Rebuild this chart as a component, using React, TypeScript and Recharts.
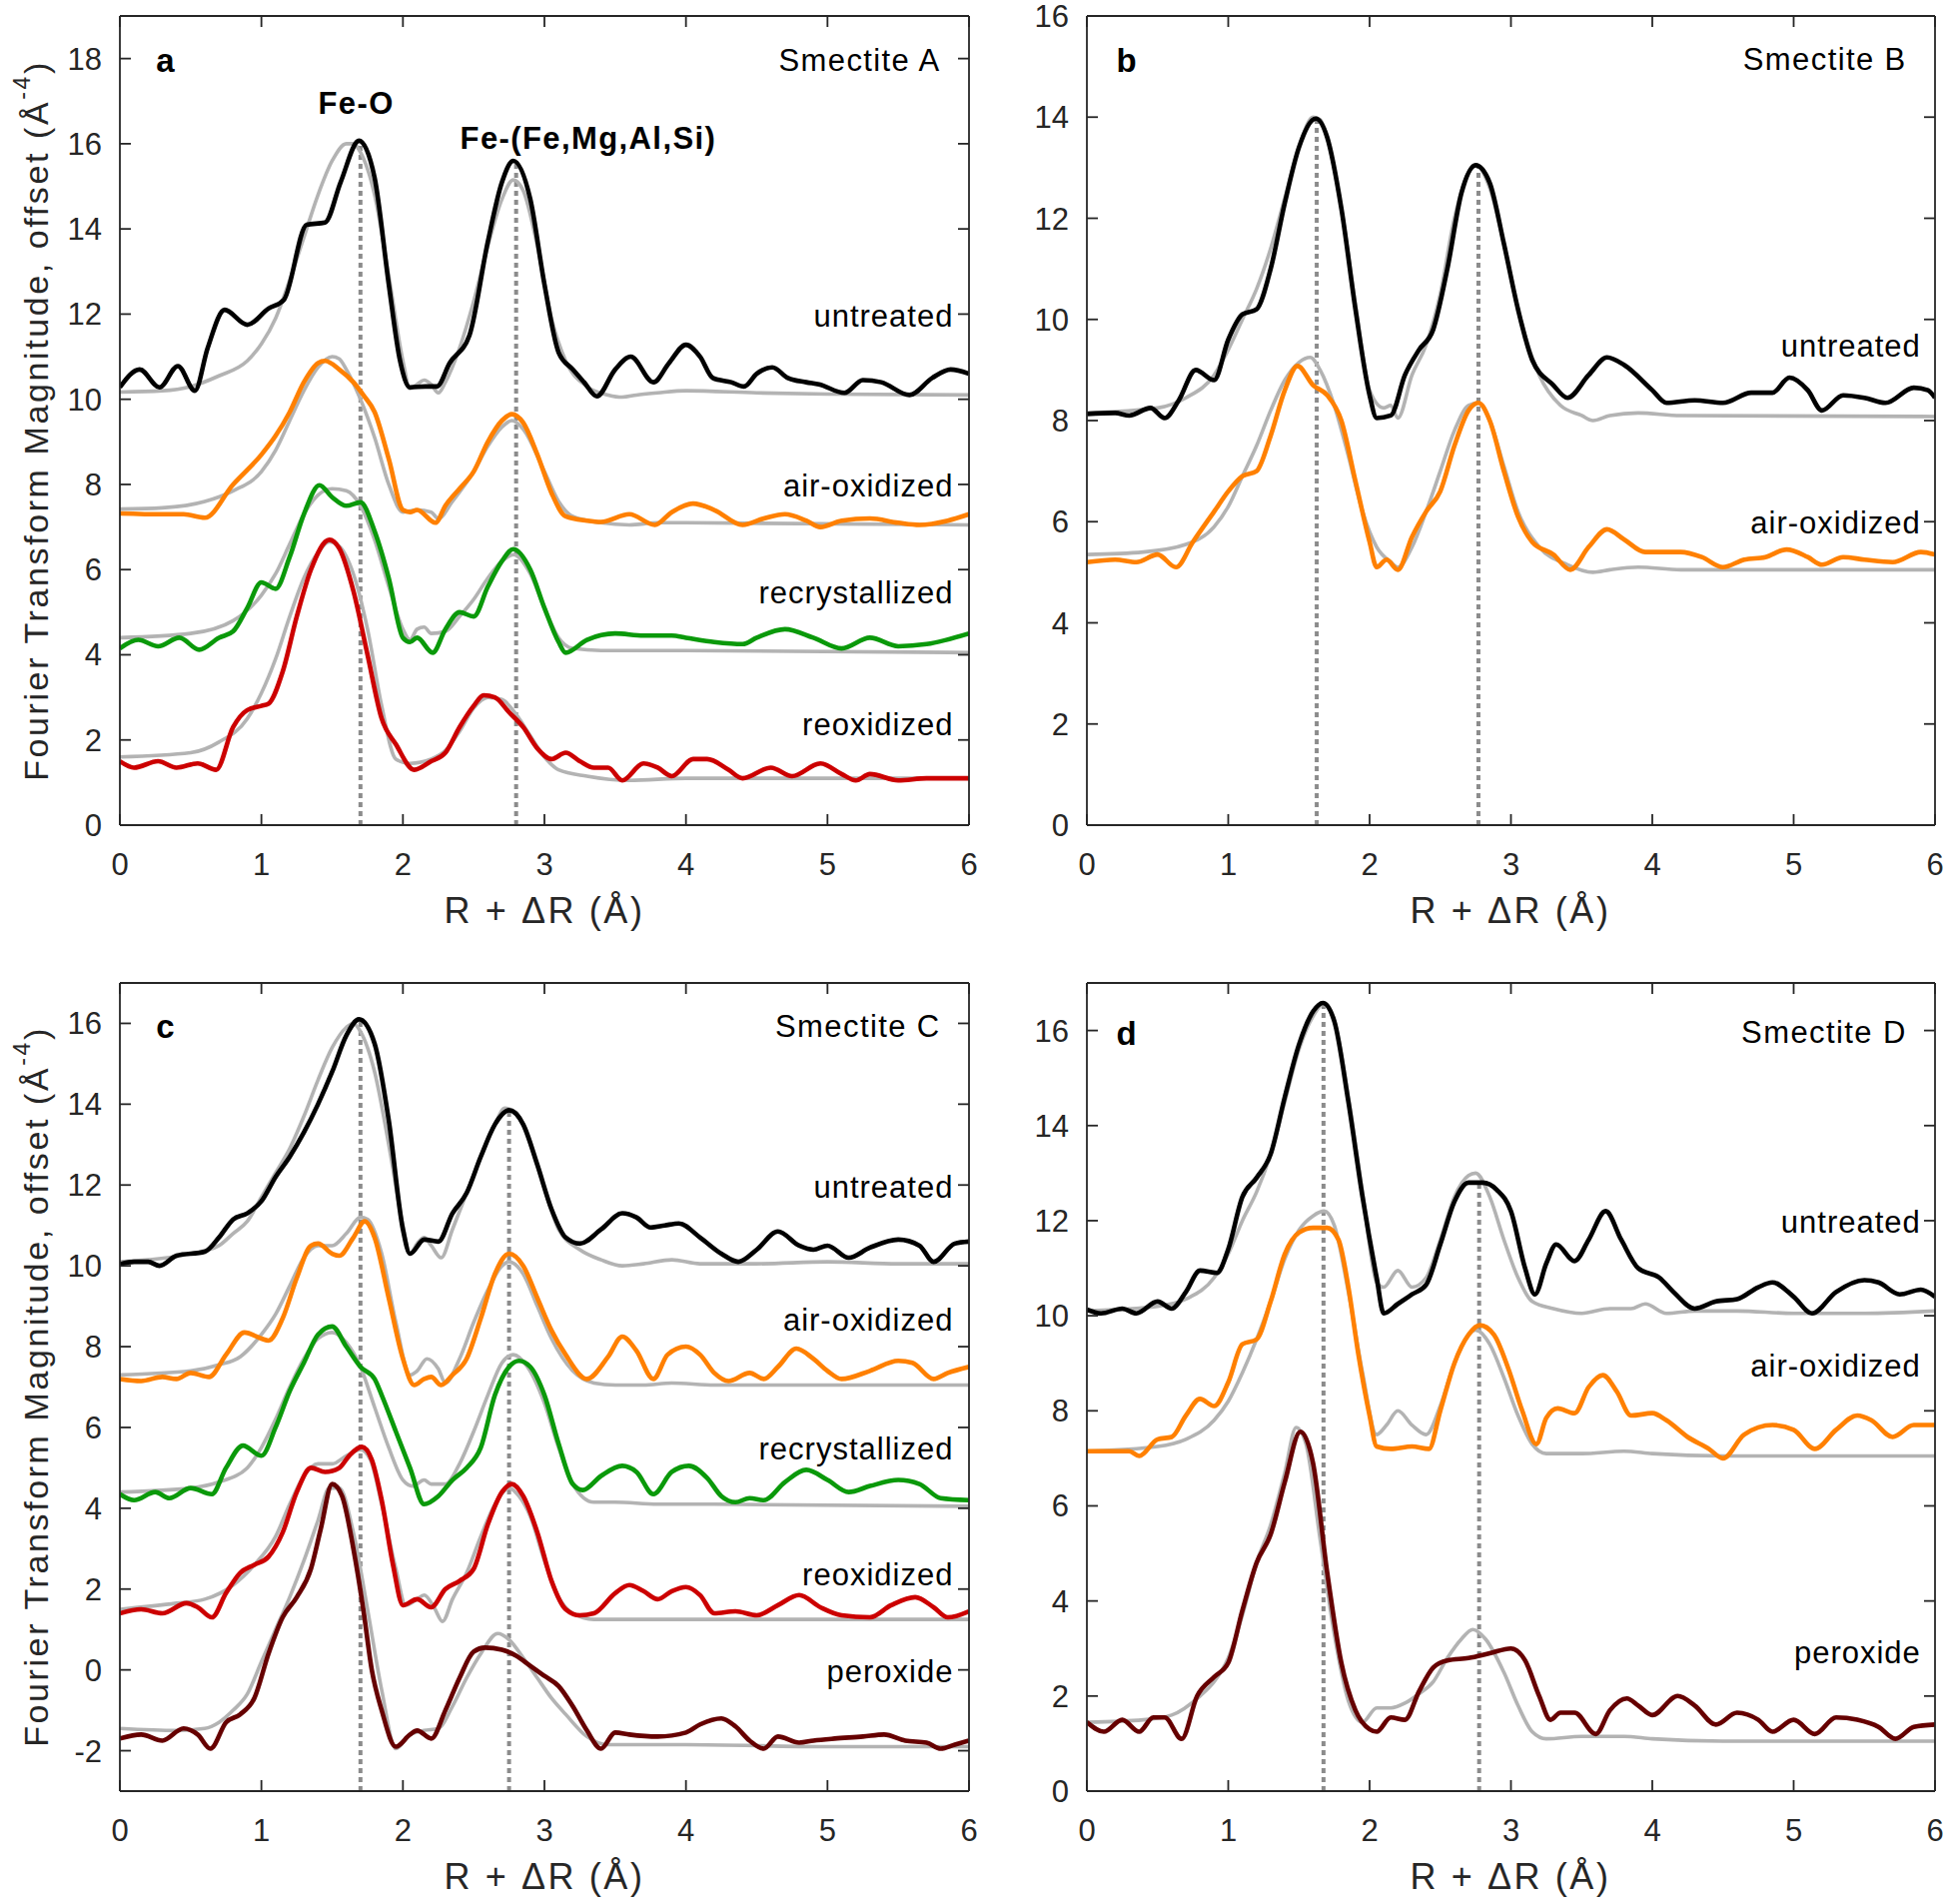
import React from 'react';
import { LineChart, Line, XAxis, YAxis, ReferenceLine, ReferenceDot } from 'recharts';

type Pt = [number, number];

// ---------- x ticks ----------
const xTicks = [0, 1, 2, 3, 4, 5, 6];
const yTicksA = [0, 2, 4, 6, 8, 10, 12, 14, 16, 18];
const yTicksB = [0, 2, 4, 6, 8, 10, 12, 14, 16];
const yTicksC = [-2, 0, 2, 4, 6, 8, 10, 12, 14, 16];
const yTicksD = [0, 2, 4, 6, 8, 10, 12, 14, 16];

// ---------- Panel a : Smectite A ----------
const aUntreated: Pt[] = [[0,10.28],[0.14,10.7],[0.28,10.28],[0.41,10.78],[0.53,10.2],[0.62,11.2],[0.74,12.1],[0.9,11.75],[1.05,12.13],[1.16,12.34],[1.32,14.1],[1.45,14.15],[1.56,15.1],[1.69,16.07],[1.8,15.2],[1.9,12.7],[1.98,10.9],[2.05,10.28],[2.16,10.3],[2.24,10.3],[2.33,10.85],[2.47,11.5],[2.6,13.7],[2.7,15.1],[2.78,15.6],[2.9,14.7],[3.0,12.7],[3.1,11.1],[3.2,10.7],[3.28,10.4],[3.37,10.07],[3.5,10.7],[3.61,11],[3.77,10.4],[3.88,10.85],[4.0,11.28],[4.1,11],[4.19,10.5],[4.32,10.4],[4.41,10.3],[4.5,10.6],[4.61,10.75],[4.72,10.5],[4.85,10.4],[4.94,10.35],[5.12,10.15],[5.25,10.45],[5.38,10.4],[5.58,10.1],[5.74,10.5],[5.87,10.7],[6.0,10.6]];
const aUntreatedFit: Pt[] = [[0,10.17],[0.3,10.2],[0.5,10.3],[0.7,10.55],[0.9,10.9],[1.0,11.3],[1.1,11.9],[1.2,12.8],[1.3,13.8],[1.4,14.8],[1.5,15.6],[1.6,16.0],[1.65,16.0],[1.7,15.8],[1.8,14.8],[1.9,12.9],[2.0,10.9],[2.05,10.25],[2.1,10.35],[2.15,10.45],[2.2,10.35],[2.25,10.15],[2.3,10.4],[2.4,11.2],[2.5,12.3],[2.6,13.6],[2.7,14.7],[2.78,15.15],[2.85,14.9],[2.95,13.6],[3.05,11.9],[3.15,10.9],[3.3,10.3],[3.45,10.1],[3.55,10.05],[3.65,10.1],[3.8,10.15],[4.0,10.2],[4.5,10.15],[5,10.12],[6,10.1]];
const aAir: Pt[] = [[0,7.32],[0.3,7.3],[0.45,7.3],[0.6,7.22],[0.8,8.0],[1.0,8.7],[1.1,9.14],[1.2,9.7],[1.3,10.4],[1.4,10.85],[1.45,10.9],[1.55,10.7],[1.65,10.4],[1.72,10.1],[1.8,9.7],[1.9,8.6],[2.0,7.4],[2.05,7.35],[2.1,7.4],[2.23,7.1],[2.3,7.5],[2.4,7.9],[2.5,8.3],[2.6,9.0],[2.7,9.5],[2.77,9.65],[2.85,9.45],[2.95,8.7],[3.05,7.8],[3.15,7.25],[3.3,7.15],[3.4,7.12],[3.6,7.3],[3.78,7.05],[3.9,7.35],[4.05,7.55],[4.2,7.4],[4.4,7.05],[4.55,7.2],[4.7,7.3],[4.85,7.15],[4.95,7.0],[5.1,7.15],[5.3,7.2],[5.5,7.1],[5.65,7.05],[5.85,7.15],[6.0,7.3]];
const aAirFit: Pt[] = [[0,7.42],[0.3,7.45],[0.6,7.6],[0.8,7.85],[1.0,8.3],[1.1,8.8],[1.2,9.5],[1.3,10.2],[1.4,10.75],[1.5,11.0],[1.55,10.95],[1.6,10.7],[1.7,10.0],[1.8,9.1],[1.9,8.0],[2.0,7.35],[2.1,7.4],[2.2,7.35],[2.25,7.2],[2.35,7.6],[2.5,8.3],[2.6,8.9],[2.7,9.35],[2.77,9.5],[2.85,9.3],[3.0,8.3],[3.1,7.6],[3.2,7.25],[3.4,7.1],[3.6,7.05],[3.8,7.1],[4.0,7.1],[6,7.05]];
const aRecrys: Pt[] = [[0,4.15],[0.13,4.35],[0.27,4.2],[0.42,4.4],[0.56,4.12],[0.7,4.4],[0.8,4.55],[0.9,5.1],[1.0,5.7],[1.1,5.55],[1.2,6.3],[1.3,7.3],[1.41,7.98],[1.5,7.7],[1.6,7.5],[1.7,7.58],[1.8,6.9],[1.9,5.8],[2.0,4.4],[2.05,4.3],[2.1,4.4],[2.21,4.05],[2.3,4.6],[2.4,5.0],[2.5,4.9],[2.6,5.6],[2.7,6.2],[2.78,6.48],[2.9,6.0],[3.0,5.1],[3.1,4.3],[3.15,4.05],[3.3,4.35],[3.5,4.5],[3.7,4.45],[3.9,4.45],[4.0,4.4],[4.2,4.3],[4.4,4.25],[4.5,4.4],[4.7,4.6],[4.9,4.4],[5.1,4.15],[5.3,4.4],[5.5,4.2],[5.7,4.25],[6.0,4.5]];
const aRecrysFit: Pt[] = [[0,4.4],[0.5,4.5],[0.8,4.8],[1.0,5.4],[1.1,5.9],[1.2,6.6],[1.3,7.3],[1.4,7.75],[1.5,7.9],[1.6,7.85],[1.7,7.5],[1.8,6.7],[1.9,5.6],[2.0,4.6],[2.05,4.35],[2.1,4.6],[2.15,4.65],[2.2,4.5],[2.3,4.55],[2.4,4.9],[2.5,5.3],[2.6,5.8],[2.7,6.2],[2.78,6.35],[2.9,5.9],[3.0,5.1],[3.1,4.4],[3.2,4.15],[3.4,4.1],[3.6,4.1],[4,4.1],[6,4.05]];
const aReox: Pt[] = [[0,1.5],[0.1,1.35],[0.27,1.5],[0.4,1.35],[0.55,1.45],[0.68,1.3],[0.8,2.3],[0.9,2.7],[1.0,2.8],[1.05,2.85],[1.15,3.6],[1.25,4.9],[1.35,6.0],[1.48,6.7],[1.55,6.5],[1.65,5.5],[1.75,4.0],[1.85,2.5],[1.95,1.9],[2.08,1.3],[2.2,1.5],[2.3,1.7],[2.4,2.3],[2.5,2.8],[2.57,3.05],[2.65,3.0],[2.75,2.65],[2.85,2.3],[2.95,1.8],[3.05,1.55],[3.15,1.7],[3.25,1.5],[3.35,1.35],[3.45,1.35],[3.55,1.05],[3.7,1.45],[3.8,1.35],[3.9,1.15],[4.05,1.55],[4.15,1.55],[4.3,1.3],[4.4,1.1],[4.6,1.35],[4.75,1.15],[4.95,1.45],[5.1,1.2],[5.2,1.05],[5.3,1.2],[5.5,1.05],[5.7,1.1],[6.0,1.1]];
const aReoxFit: Pt[] = [[0,1.6],[0.5,1.7],[0.7,1.95],[0.9,2.5],[1.0,3.1],[1.1,3.9],[1.2,4.9],[1.3,5.8],[1.4,6.4],[1.48,6.65],[1.55,6.55],[1.65,5.9],[1.75,4.6],[1.85,2.8],[1.95,1.55],[2.05,1.45],[2.2,1.55],[2.3,1.75],[2.4,2.2],[2.5,2.75],[2.6,3.0],[2.7,2.95],[2.8,2.6],[2.9,2.1],[3.0,1.6],[3.1,1.3],[3.3,1.15],[3.6,1.05],[4,1.1],[6,1.1]];

// ---------- Panel b : Smectite B ----------
const bUntreated: Pt[] = [[0,8.13],[0.2,8.15],[0.3,8.1],[0.45,8.25],[0.55,8.05],[0.65,8.4],[0.77,9.0],[0.9,8.8],[1.0,9.6],[1.1,10.1],[1.2,10.2],[1.3,11.0],[1.4,12.3],[1.5,13.4],[1.62,13.97],[1.7,13.6],[1.8,12.2],[1.9,10.2],[2.0,8.5],[2.05,8.05],[2.15,8.1],[2.25,8.9],[2.35,9.4],[2.45,9.8],[2.55,11.0],[2.65,12.5],[2.75,13.05],[2.85,12.7],[2.95,11.5],[3.05,10.2],[3.15,9.2],[3.3,8.7],[3.4,8.45],[3.55,8.9],[3.68,9.25],[3.8,9.1],[4.0,8.6],[4.1,8.35],[4.3,8.4],[4.5,8.35],[4.7,8.55],[4.85,8.55],[4.97,8.85],[5.1,8.6],[5.2,8.2],[5.35,8.5],[5.5,8.45],[5.65,8.35],[5.85,8.65],[5.95,8.6],[6.0,8.45]];
const bUntreatedFit: Pt[] = [[0,8.15],[0.5,8.25],[0.7,8.45],[0.9,8.9],[1.0,9.4],[1.1,10.0],[1.2,10.6],[1.3,11.4],[1.4,12.4],[1.5,13.4],[1.6,14.0],[1.65,13.95],[1.7,13.6],[1.8,12.2],[1.9,10.3],[2.0,8.6],[2.1,8.25],[2.15,8.3],[2.2,8.05],[2.3,8.9],[2.4,9.5],[2.5,10.5],[2.6,12.0],[2.7,12.9],[2.75,13.05],[2.85,12.6],[2.95,11.5],[3.05,10.2],[3.2,8.9],[3.35,8.3],[3.5,8.1],[3.58,8.0],[3.7,8.1],[3.9,8.15],[4.2,8.1],[6,8.08]];
const bAir: Pt[] = [[0,5.2],[0.2,5.25],[0.35,5.2],[0.5,5.35],[0.63,5.1],[0.75,5.6],[0.9,6.2],[1.0,6.6],[1.1,6.9],[1.2,7.0],[1.3,7.7],[1.4,8.6],[1.49,9.08],[1.6,8.7],[1.7,8.5],[1.8,8.0],[1.9,6.8],[2.0,5.6],[2.05,5.1],[2.12,5.25],[2.2,5.05],[2.3,5.7],[2.4,6.2],[2.5,6.6],[2.6,7.5],[2.7,8.2],[2.77,8.35],[2.85,8.0],[2.95,7.0],[3.05,6.1],[3.15,5.6],[3.3,5.35],[3.42,5.05],[3.55,5.5],[3.68,5.85],[3.8,5.65],[3.95,5.4],[4.2,5.4],[4.35,5.3],[4.5,5.1],[4.65,5.25],[4.8,5.3],[4.95,5.45],[5.1,5.3],[5.2,5.15],[5.35,5.3],[5.5,5.25],[5.7,5.2],[5.9,5.4],[6.0,5.35]];
const bAirFit: Pt[] = [[0,5.35],[0.4,5.4],[0.7,5.55],[0.9,5.9],[1.0,6.3],[1.1,6.9],[1.2,7.5],[1.3,8.2],[1.4,8.8],[1.5,9.15],[1.58,9.25],[1.65,9.0],[1.75,8.3],[1.85,7.3],[1.95,6.2],[2.05,5.5],[2.15,5.2],[2.2,5.1],[2.3,5.5],[2.4,6.2],[2.5,7.0],[2.6,7.8],[2.7,8.3],[2.77,8.35],[2.85,8.0],[2.95,7.1],[3.05,6.2],[3.2,5.5],[3.4,5.15],[3.58,5.0],[3.7,5.05],[3.9,5.1],[4.2,5.05],[6,5.05]];

// ---------- Panel c : Smectite C ----------
const cUntreated: Pt[] = [[0,10.04],[0.1,10.1],[0.2,10.1],[0.28,10.0],[0.4,10.25],[0.6,10.35],[0.7,10.7],[0.8,11.15],[0.9,11.3],[1.0,11.6],[1.1,12.2],[1.2,12.7],[1.3,13.3],[1.4,14.0],[1.5,14.8],[1.6,15.7],[1.69,16.1],[1.8,15.5],[1.9,13.6],[2.0,10.9],[2.05,10.3],[2.15,10.65],[2.25,10.6],[2.35,11.3],[2.45,11.8],[2.55,12.7],[2.65,13.5],[2.75,13.85],[2.85,13.5],[2.95,12.5],[3.05,11.4],[3.15,10.7],[3.25,10.55],[3.4,10.9],[3.55,11.3],[3.65,11.2],[3.75,10.95],[3.85,11.0],[3.95,11.05],[4.1,10.7],[4.25,10.3],[4.37,10.1],[4.5,10.4],[4.65,10.85],[4.8,10.5],[4.9,10.4],[5.0,10.5],[5.15,10.2],[5.3,10.45],[5.5,10.65],[5.65,10.5],[5.75,10.1],[5.9,10.55],[6.0,10.6]];
const cUntreatedFit: Pt[] = [[0,10.1],[0.5,10.3],[0.7,10.5],[0.8,10.8],[0.9,11.1],[1.0,11.7],[1.1,12.3],[1.2,12.9],[1.3,13.7],[1.4,14.6],[1.5,15.4],[1.6,15.9],[1.65,16.0],[1.7,15.8],[1.8,14.8],[1.9,13.0],[2.0,11.0],[2.05,10.3],[2.1,10.55],[2.15,10.7],[2.2,10.5],[2.27,10.2],[2.35,10.9],[2.45,11.8],[2.55,12.7],[2.65,13.5],[2.72,13.9],[2.8,13.8],[2.9,13.0],[3.0,11.9],[3.1,10.9],[3.25,10.4],[3.4,10.15],[3.55,10.0],[3.7,10.05],[3.9,10.15],[4.1,10.05],[4.5,10.05],[5,10.1],[5.5,10.05],[6,10.05]];
const cAir: Pt[] = [[0,7.2],[0.15,7.15],[0.3,7.25],[0.4,7.2],[0.5,7.35],[0.63,7.25],[0.75,7.8],[0.88,8.35],[1.0,8.2],[1.05,8.15],[1.15,8.7],[1.25,9.7],[1.35,10.5],[1.4,10.55],[1.5,10.3],[1.55,10.25],[1.65,10.7],[1.73,11.1],[1.8,10.7],[1.9,9.2],[2.0,7.7],[2.08,7.05],[2.15,7.2],[2.2,7.25],[2.27,7.05],[2.35,7.3],[2.45,7.7],[2.55,8.7],[2.65,9.8],[2.75,10.3],[2.85,10.0],[2.95,9.2],[3.05,8.4],[3.15,7.8],[3.3,7.2],[3.45,7.75],[3.55,8.25],[3.65,7.9],[3.77,7.2],[3.87,7.8],[4.0,8.0],[4.1,7.8],[4.2,7.35],[4.3,7.15],[4.45,7.35],[4.55,7.2],[4.65,7.5],[4.78,7.95],[4.9,7.7],[5.0,7.4],[5.1,7.2],[5.3,7.4],[5.5,7.65],[5.6,7.6],[5.75,7.2],[5.85,7.35],[6.0,7.5]];
const cAirFit: Pt[] = [[0,7.3],[0.5,7.4],[0.7,7.55],[0.85,7.75],[1.0,8.3],[1.1,8.8],[1.2,9.5],[1.3,10.2],[1.4,10.5],[1.5,10.5],[1.6,10.8],[1.7,11.2],[1.75,11.15],[1.85,10.3],[1.95,8.6],[2.05,7.3],[2.1,7.4],[2.17,7.7],[2.25,7.45],[2.3,7.1],[2.4,7.7],[2.5,8.6],[2.6,9.4],[2.7,10.0],[2.75,10.1],[2.85,9.8],[2.95,9.0],[3.05,8.2],[3.2,7.4],[3.35,7.1],[3.5,7.05],[3.7,7.05],[3.9,7.1],[4.2,7.05],[6,7.05]];
const cRecrys: Pt[] = [[0,4.35],[0.1,4.2],[0.25,4.4],[0.35,4.25],[0.5,4.5],[0.65,4.35],[0.75,5.0],[0.87,5.55],[1.0,5.3],[1.1,6.0],[1.2,6.9],[1.3,7.6],[1.4,8.3],[1.5,8.5],[1.6,8.0],[1.7,7.5],[1.8,7.2],[1.85,6.8],[1.95,5.9],[2.05,5.0],[2.15,4.1],[2.25,4.3],[2.35,4.7],[2.45,5.0],[2.55,5.5],[2.65,6.8],[2.75,7.5],[2.82,7.65],[2.9,7.5],[3.0,6.8],[3.1,5.6],[3.2,4.6],[3.27,4.45],[3.4,4.8],[3.55,5.05],[3.65,4.9],[3.77,4.35],[3.9,4.9],[4.02,5.05],[4.15,4.75],[4.25,4.3],[4.35,4.15],[4.45,4.25],[4.55,4.2],[4.7,4.65],[4.85,4.95],[5.0,4.7],[5.15,4.4],[5.3,4.55],[5.5,4.7],[5.65,4.6],[5.8,4.25],[6.0,4.2]];
const cRecrysFit: Pt[] = [[0,4.4],[0.5,4.5],[0.7,4.65],[0.9,5.0],[1.0,5.5],[1.1,6.2],[1.2,7.0],[1.3,7.7],[1.4,8.2],[1.5,8.35],[1.6,8.1],[1.7,7.5],[1.8,6.5],[1.9,5.5],[2.0,4.7],[2.07,4.55],[2.15,4.7],[2.2,4.6],[2.3,4.6],[2.4,5.1],[2.5,5.9],[2.6,6.8],[2.7,7.6],[2.78,7.8],[2.88,7.5],[3.0,6.6],[3.1,5.5],[3.2,4.6],[3.35,4.15],[3.5,4.15],[3.8,4.1],[4.2,4.1],[6,4.05]];
const cReox: Pt[] = [[0,1.4],[0.15,1.5],[0.3,1.4],[0.47,1.65],[0.55,1.55],[0.65,1.3],[0.75,1.9],[0.85,2.4],[0.95,2.6],[1.05,2.8],[1.15,3.4],[1.25,4.4],[1.35,5.0],[1.45,4.9],[1.55,5.0],[1.62,5.3],[1.71,5.52],[1.78,5.2],[1.85,4.2],[1.93,2.6],[2.0,1.6],[2.1,1.75],[2.2,1.55],[2.3,2.0],[2.4,2.2],[2.5,2.5],[2.6,3.6],[2.7,4.4],[2.77,4.6],[2.85,4.3],[2.95,3.4],[3.05,2.2],[3.15,1.5],[3.25,1.35],[3.35,1.4],[3.5,1.9],[3.6,2.1],[3.7,1.95],[3.8,1.75],[3.9,1.95],[4.0,2.05],[4.1,1.85],[4.2,1.4],[4.35,1.45],[4.5,1.35],[4.65,1.6],[4.8,1.85],[4.95,1.55],[5.1,1.35],[5.3,1.3],[5.45,1.6],[5.62,1.8],[5.75,1.55],[5.85,1.3],[6.0,1.45]];
const cReoxFit: Pt[] = [[0,1.5],[0.4,1.65],[0.6,1.75],[0.8,2.1],[0.95,2.6],[1.1,3.3],[1.2,4.1],[1.3,4.8],[1.4,5.1],[1.5,5.1],[1.6,5.3],[1.7,5.45],[1.77,5.2],[1.85,4.1],[1.95,2.5],[2.02,1.6],[2.1,1.75],[2.15,1.85],[2.22,1.55],[2.28,1.2],[2.35,1.75],[2.45,2.4],[2.55,3.3],[2.65,4.1],[2.75,4.5],[2.82,4.3],[2.9,3.8],[3.0,2.7],[3.1,1.8],[3.2,1.4],[3.35,1.25],[3.6,1.25],[4,1.25],[6,1.25]];
const cPerox: Pt[] = [[0,-1.7],[0.15,-1.6],[0.3,-1.75],[0.45,-1.45],[0.55,-1.6],[0.64,-1.95],[0.75,-1.3],[0.85,-1.1],[0.95,-0.7],[1.05,0.4],[1.15,1.3],[1.25,1.8],[1.35,2.5],[1.42,3.5],[1.5,4.6],[1.57,4.3],[1.65,3.0],[1.72,1.5],[1.78,0.0],[1.85,-1.0],[1.95,-1.9],[2.05,-1.6],[2.1,-1.5],[2.2,-1.7],[2.3,-1.0],[2.4,-0.2],[2.5,0.45],[2.58,0.55],[2.7,0.5],[2.8,0.35],[2.9,0.1],[3.0,-0.15],[3.1,-0.4],[3.2,-0.9],[3.3,-1.5],[3.4,-1.95],[3.5,-1.55],[3.6,-1.6],[3.8,-1.65],[4.0,-1.55],[4.1,-1.35],[4.25,-1.2],[4.35,-1.4],[4.45,-1.75],[4.55,-1.95],[4.65,-1.65],[4.8,-1.8],[4.9,-1.75],[5.05,-1.7],[5.25,-1.65],[5.4,-1.6],[5.55,-1.75],[5.7,-1.8],[5.8,-1.95],[5.9,-1.85],[6.0,-1.75]];
const cPeroxFit: Pt[] = [[0,-1.45],[0.4,-1.5],[0.6,-1.45],[0.7,-1.3],[0.8,-1.0],[0.9,-0.6],[1.0,0.2],[1.1,1.0],[1.2,1.8],[1.3,2.7],[1.4,3.7],[1.48,4.5],[1.55,4.5],[1.65,3.4],[1.75,1.5],[1.85,-0.5],[1.95,-1.95],[2.05,-1.6],[2.15,-1.5],[2.25,-1.45],[2.35,-0.9],[2.45,-0.2],[2.55,0.4],[2.67,0.9],[2.75,0.75],[2.85,0.3],[2.95,-0.2],[3.05,-0.7],[3.15,-1.1],[3.3,-1.65],[3.45,-1.85],[3.7,-1.85],[4,-1.85],[5,-1.9],[6,-1.9]];

// ---------- Panel d : Smectite D ----------
const dUntreated: Pt[] = [[0,10.13],[0.1,10.05],[0.25,10.15],[0.35,10.05],[0.5,10.3],[0.6,10.15],[0.7,10.5],[0.8,10.95],[0.92,10.9],[1.0,11.4],[1.1,12.5],[1.2,12.9],[1.3,13.4],[1.4,14.6],[1.5,15.7],[1.6,16.4],[1.67,16.58],[1.75,16.2],[1.85,14.5],[1.95,12.5],[2.05,10.8],[2.1,10.05],[2.2,10.25],[2.3,10.45],[2.4,10.65],[2.5,11.5],[2.6,12.4],[2.7,12.8],[2.8,12.8],[2.9,12.65],[3.0,12.2],[3.1,11.0],[3.17,10.45],[3.25,11.1],[3.32,11.5],[3.45,11.15],[3.55,11.6],[3.67,12.2],[3.78,11.6],[3.9,11.0],[4.05,10.8],[4.15,10.5],[4.3,10.15],[4.45,10.3],[4.6,10.35],[4.75,10.6],[4.85,10.7],[5.0,10.4],[5.13,10.05],[5.3,10.5],[5.5,10.75],[5.6,10.7],[5.75,10.45],[5.9,10.55],[6.0,10.4]];
const dUntreatedFit: Pt[] = [[0,10.1],[0.5,10.2],[0.7,10.35],[0.9,10.8],[1.0,11.3],[1.1,12.0],[1.2,12.6],[1.3,13.4],[1.4,14.5],[1.5,15.6],[1.6,16.3],[1.67,16.55],[1.75,16.2],[1.85,14.6],[1.95,12.6],[2.05,10.7],[2.1,10.6],[2.2,10.95],[2.3,10.6],[2.4,10.8],[2.5,11.6],[2.6,12.5],[2.7,12.95],[2.75,13.0],[2.85,12.5],[2.95,11.6],[3.05,10.8],[3.15,10.3],[3.3,10.15],[3.5,10.05],[3.7,10.15],[3.85,10.15],[3.95,10.25],[4.1,10.05],[4.3,10.1],[4.6,10.1],[5,10.05],[5.5,10.05],[6,10.1]];
const dAir: Pt[] = [[0,7.15],[0.15,7.15],[0.3,7.15],[0.37,7.05],[0.5,7.4],[0.6,7.45],[0.7,7.9],[0.8,8.25],[0.9,8.1],[1.0,8.6],[1.1,9.4],[1.2,9.5],[1.3,10.3],[1.4,11.3],[1.5,11.75],[1.6,11.85],[1.7,11.85],[1.78,11.6],[1.85,10.6],[1.92,9.2],[2.0,7.9],[2.05,7.25],[2.15,7.2],[2.3,7.25],[2.42,7.2],[2.5,8.0],[2.6,9.0],[2.7,9.6],[2.78,9.8],[2.88,9.6],[2.98,8.9],[3.08,8.0],[3.18,7.3],[3.25,7.85],[3.33,8.05],[3.45,7.95],[3.55,8.5],[3.65,8.75],[3.75,8.4],[3.85,7.9],[4.0,7.95],[4.1,7.8],[4.25,7.45],[4.4,7.2],[4.5,7.0],[4.65,7.5],[4.85,7.7],[5.0,7.6],[5.15,7.2],[5.3,7.6],[5.45,7.9],[5.55,7.8],[5.7,7.45],[5.85,7.7],[6.0,7.7]];
const dAirFit: Pt[] = [[0,7.15],[0.5,7.25],[0.7,7.4],[0.9,7.8],[1.0,8.2],[1.1,8.8],[1.2,9.5],[1.3,10.3],[1.4,11.2],[1.5,11.8],[1.6,12.1],[1.68,12.2],[1.75,11.9],[1.85,10.5],[1.95,8.8],[2.05,7.5],[2.12,7.7],[2.2,8.0],[2.3,7.7],[2.4,7.5],[2.5,8.1],[2.6,9.0],[2.7,9.6],[2.75,9.7],[2.85,9.4],[2.95,8.7],[3.05,7.9],[3.15,7.3],[3.25,7.1],[3.5,7.1],[3.8,7.15],[4.0,7.1],[4.5,7.05],[5,7.05],[6,7.05]];
const dPerox: Pt[] = [[0,1.45],[0.12,1.25],[0.25,1.5],[0.37,1.25],[0.47,1.55],[0.55,1.55],[0.67,1.1],[0.78,2.0],[0.9,2.4],[1.0,2.7],[1.1,3.8],[1.2,4.8],[1.3,5.4],[1.4,6.5],[1.51,7.56],[1.6,6.9],[1.7,4.6],[1.8,2.7],[1.9,1.7],[2.0,1.3],[2.05,1.25],[2.15,1.55],[2.25,1.5],[2.35,2.1],[2.45,2.6],[2.55,2.75],[2.7,2.8],[2.85,2.9],[3.0,3.0],[3.1,2.75],[3.2,2.0],[3.28,1.5],[3.35,1.65],[3.45,1.65],[3.6,1.2],[3.7,1.7],[3.82,1.95],[3.9,1.8],[4.0,1.6],[4.18,2.0],[4.3,1.8],[4.45,1.4],[4.6,1.65],[4.75,1.5],[4.85,1.25],[5.0,1.5],[5.15,1.2],[5.3,1.55],[5.45,1.5],[5.6,1.35],[5.72,1.1],[5.85,1.35],[6.0,1.4]];
const dPeroxFit: Pt[] = [[0,1.45],[0.4,1.5],[0.6,1.6],[0.8,2.0],[0.9,2.3],[1.0,2.8],[1.1,3.7],[1.2,4.8],[1.3,5.6],[1.4,6.7],[1.48,7.65],[1.55,7.3],[1.65,5.3],[1.75,3.3],[1.85,1.9],[1.95,1.45],[2.05,1.75],[2.15,1.75],[2.25,1.85],[2.35,2.05],[2.45,2.3],[2.55,2.8],[2.65,3.2],[2.73,3.4],[2.82,3.2],[2.95,2.5],[3.05,1.8],[3.15,1.25],[3.25,1.1],[3.5,1.15],[3.8,1.15],[4,1.1],[4.5,1.05],[5,1.05],[6,1.05]];

// ---------- styling ----------
const FONT = '"Liberation Sans", Arial, Helvetica, sans-serif';
const AXIS = '#262626';
const GRAY = '#b3b3b3';
const DOT = '#8c8c8c';
const C_BLACK = '#000000';
const C_ORANGE = '#ff8000';
const C_GREEN = '#0a990a';
const C_RED = '#cc0000';
const C_DARK = '#660000';

type Series = { pts: Pt[]; fit: Pt[]; color: string; label: string; ly: number };
type PanelCfg = {
  left: number; top: number; width: number; height: number;
  margin: { top: number; right: number; bottom: number; left: number };
  domain: [number, number]; ticks: number[];
  series: Series[]; vlines: { x: number; y0: number; y1: number }[];
  letter: string; letterPos: Pt; title: string; titleY: number; labelX: number;
  extra?: { text: string; x: number; y: number }[];
};

const toData = (pts: Pt[]) => pts.map(([r, m]) => ({ r, m }));

const textShape = (text: string, anchor: string, size: number, bold = false, spacing = 1.2) => (p: any) => (
  <text x={p.cx} y={p.cy} textAnchor={anchor as any} dominantBaseline="central" fontFamily={FONT}
    fontSize={size} fontWeight={bold ? 'bold' : 'normal'} letterSpacing={spacing} fill="#000">{text}</text>
);

function Panel({ cfg }: { cfg: PanelCfg }) {
  const tickStyle = { fill: AXIS, fontSize: 31, fontFamily: FONT };
  const common = { axisLine: { stroke: AXIS, strokeWidth: 1.8 }, tickLine: { stroke: AXIS, strokeWidth: 1.8 }, tickSize: -11, interval: 0 as const, allowDataOverflow: true };
  return (
    <div style={{ position: 'absolute', left: cfg.left, top: cfg.top }}>
      <LineChart width={cfg.width} height={cfg.height} margin={cfg.margin} style={{ overflow: 'visible' }}>
        <XAxis xAxisId="b" dataKey="r" type="number" domain={[0, 6]} ticks={xTicks} orientation="bottom" height={1}
          tickMargin={39} tick={tickStyle} {...common} />
        <XAxis xAxisId="t" dataKey="r" type="number" domain={[0, 6]} ticks={xTicks} orientation="top" height={1}
          tickFormatter={() => ''} {...common} />
        <YAxis yAxisId="l" dataKey="m" type="number" domain={cfg.domain} ticks={cfg.ticks} orientation="left" width={1}
          tickMargin={29} tick={tickStyle} {...common} />
        <YAxis yAxisId="r" dataKey="m" type="number" domain={cfg.domain} ticks={cfg.ticks} orientation="right" width={1}
          tickFormatter={() => ''} {...common} />
        {cfg.vlines.map((v, i) => (
          <ReferenceLine key={'v' + i} xAxisId="b" yAxisId="l" segment={[{ x: v.x, y: v.y0 }, { x: v.x, y: v.y1 }]}
            stroke={DOT} strokeWidth={4} strokeDasharray="5 4" ifOverflow="visible" />
        ))}
        {cfg.series.map((s, i) => (
          <Line key={'f' + i} xAxisId="b" yAxisId="l" data={toData(s.fit)} dataKey="m" type="monotone" dot={false}
            stroke={GRAY} strokeWidth={3.6} isAnimationActive={false} />
        ))}
        {cfg.series.map((s, i) => (
          <Line key={'s' + i} xAxisId="b" yAxisId="l" data={toData(s.pts)} dataKey="m" type="monotone" dot={false}
            stroke={s.color} strokeWidth={4.6} isAnimationActive={false} />
        ))}
        {cfg.series.map((s, i) => (
          <ReferenceDot key={'l' + i} xAxisId="b" yAxisId="l" x={cfg.labelX} y={s.ly} r={1} ifOverflow="visible"
            shape={textShape(s.label, 'end', 31, false, 1.0)} />
        ))}
        <ReferenceDot xAxisId="b" yAxisId="l" x={cfg.letterPos[0]} y={cfg.letterPos[1]} r={1} ifOverflow="visible"
          shape={textShape(cfg.letter, 'middle', 33, true, 0)} />
        <ReferenceDot xAxisId="b" yAxisId="l" x={5.8} y={cfg.titleY} r={1} ifOverflow="visible"
          shape={textShape(cfg.title, 'end', 31, false, 1.4)} />
        {(cfg.extra || []).map((e, i) => (
          <ReferenceDot key={'e' + i} xAxisId="b" yAxisId="l" x={e.x} y={e.y} r={1} ifOverflow="visible"
            shape={textShape(e.text, 'middle', 31, true, 1.4)} />
        ))}
      </LineChart>
    </div>
  );
}

const panels: PanelCfg[] = [
  {
    left: 0, top: 0, width: 995, height: 953, margin: { top: 15, right: 24, bottom: 126, left: 119 },
    domain: [0, 19], ticks: yTicksA,
    series: [
      { pts: aUntreated, fit: aUntreatedFit, color: C_BLACK, label: 'untreated', ly: 11.96 },
      { pts: aAir, fit: aAirFit, color: C_ORANGE, label: 'air-oxidized', ly: 7.96 },
      { pts: aRecrys, fit: aRecrysFit, color: C_GREEN, label: 'recrystallized', ly: 5.45 },
      { pts: aReox, fit: aReoxFit, color: C_RED, label: 'reoxidized', ly: 2.36 },
    ],
    vlines: [{ x: 1.7, y0: 0, y1: 16.05 }, { x: 2.8, y0: 0, y1: 15.6 }],
    letter: 'a', letterPos: [0.32, 17.95], title: 'Smectite A', titleY: 17.96, labelX: 5.89,
    extra: [{ text: 'Fe-O', x: 1.67, y: 16.95 }, { text: 'Fe-(Fe,Mg,Al,Si)', x: 3.31, y: 16.13 }],
  },
  {
    left: 975, top: 0, width: 975, height: 953, margin: { top: 15, right: 12, bottom: 126, left: 112 },
    domain: [0, 16], ticks: yTicksB,
    series: [
      { pts: bUntreated, fit: bUntreatedFit, color: C_BLACK, label: 'untreated', ly: 9.47 },
      { pts: bAir, fit: bAirFit, color: C_ORANGE, label: 'air-oxidized', ly: 5.98 },
    ],
    vlines: [{ x: 1.626, y0: 0, y1: 13.95 }, { x: 2.77, y0: 0, y1: 13.05 }],
    letter: 'b', letterPos: [0.28, 15.12], title: 'Smectite B', titleY: 15.14, labelX: 5.9,
  },
  {
    left: 0, top: 953, width: 995, height: 953, margin: { top: 30, right: 24, bottom: 112, left: 119 },
    domain: [-3, 17], ticks: yTicksC,
    series: [
      { pts: cUntreated, fit: cUntreatedFit, color: C_BLACK, label: 'untreated', ly: 11.94 },
      { pts: cAir, fit: cAirFit, color: C_ORANGE, label: 'air-oxidized', ly: 8.65 },
      { pts: cRecrys, fit: cRecrysFit, color: C_GREEN, label: 'recrystallized', ly: 5.46 },
      { pts: cReox, fit: cReoxFit, color: C_RED, label: 'reoxidized', ly: 2.36 },
      { pts: cPerox, fit: cPeroxFit, color: C_DARK, label: 'peroxide', ly: -0.05 },
    ],
    vlines: [{ x: 1.7, y0: -3, y1: 16.1 }, { x: 2.75, y0: -3, y1: 13.85 }],
    letter: 'c', letterPos: [0.32, 15.92], title: 'Smectite C', titleY: 15.92, labelX: 5.89,
  },
  {
    left: 975, top: 953, width: 975, height: 953, margin: { top: 30, right: 12, bottom: 112, left: 112 },
    domain: [0, 17], ticks: yTicksD,
    series: [
      { pts: dUntreated, fit: dUntreatedFit, color: C_BLACK, label: 'untreated', ly: 11.96 },
      { pts: dAir, fit: dAirFit, color: C_ORANGE, label: 'air-oxidized', ly: 8.95 },
      { pts: dPerox, fit: dPeroxFit, color: C_DARK, label: 'peroxide', ly: 2.92 },
    ],
    vlines: [{ x: 1.674, y0: 0, y1: 16.55 }, { x: 2.775, y0: 0, y1: 12.8 }],
    letter: 'd', letterPos: [0.28, 15.94], title: 'Smectite D', titleY: 15.97, labelX: 5.9,
  },
];

const yLabelCenters = [421, 1388];
const xLabelPos: Pt[] = [[545, 911], [1512, 911], [545, 1878], [1512, 1878]];

export default function App() {
  return (
    <div style={{ position: 'absolute', left: 0, top: 0, width: 1950, height: 1906, background: '#fff', overflow: 'hidden' }}>
      {panels.map((p, i) => <Panel key={i} cfg={p} />)}
      <svg width={1950} height={1906} style={{ position: 'absolute', left: 0, top: 0, pointerEvents: 'none' }}>
        {yLabelCenters.map((cy, i) => (
          <text key={'y' + i} x={36} y={cy} transform={`rotate(-90 36 ${cy})`} textAnchor="middle" dominantBaseline="central"
            fontFamily={FONT} fontSize={34} letterSpacing={2.6} fill={AXIS}>
            Fourier Transform Magnitude, offset (Å<tspan dy={-14} fontSize={23}>-4</tspan><tspan dy={14}>)</tspan>
          </text>
        ))}
        {xLabelPos.map(([x, y], i) => (
          <text key={'x' + i} x={x} y={y} textAnchor="middle" dominantBaseline="central" fontFamily={FONT}
            fontSize={36} letterSpacing={2.6} fill={AXIS}>R + ΔR (Å)</text>
        ))}
      </svg>
    </div>
  );
}
